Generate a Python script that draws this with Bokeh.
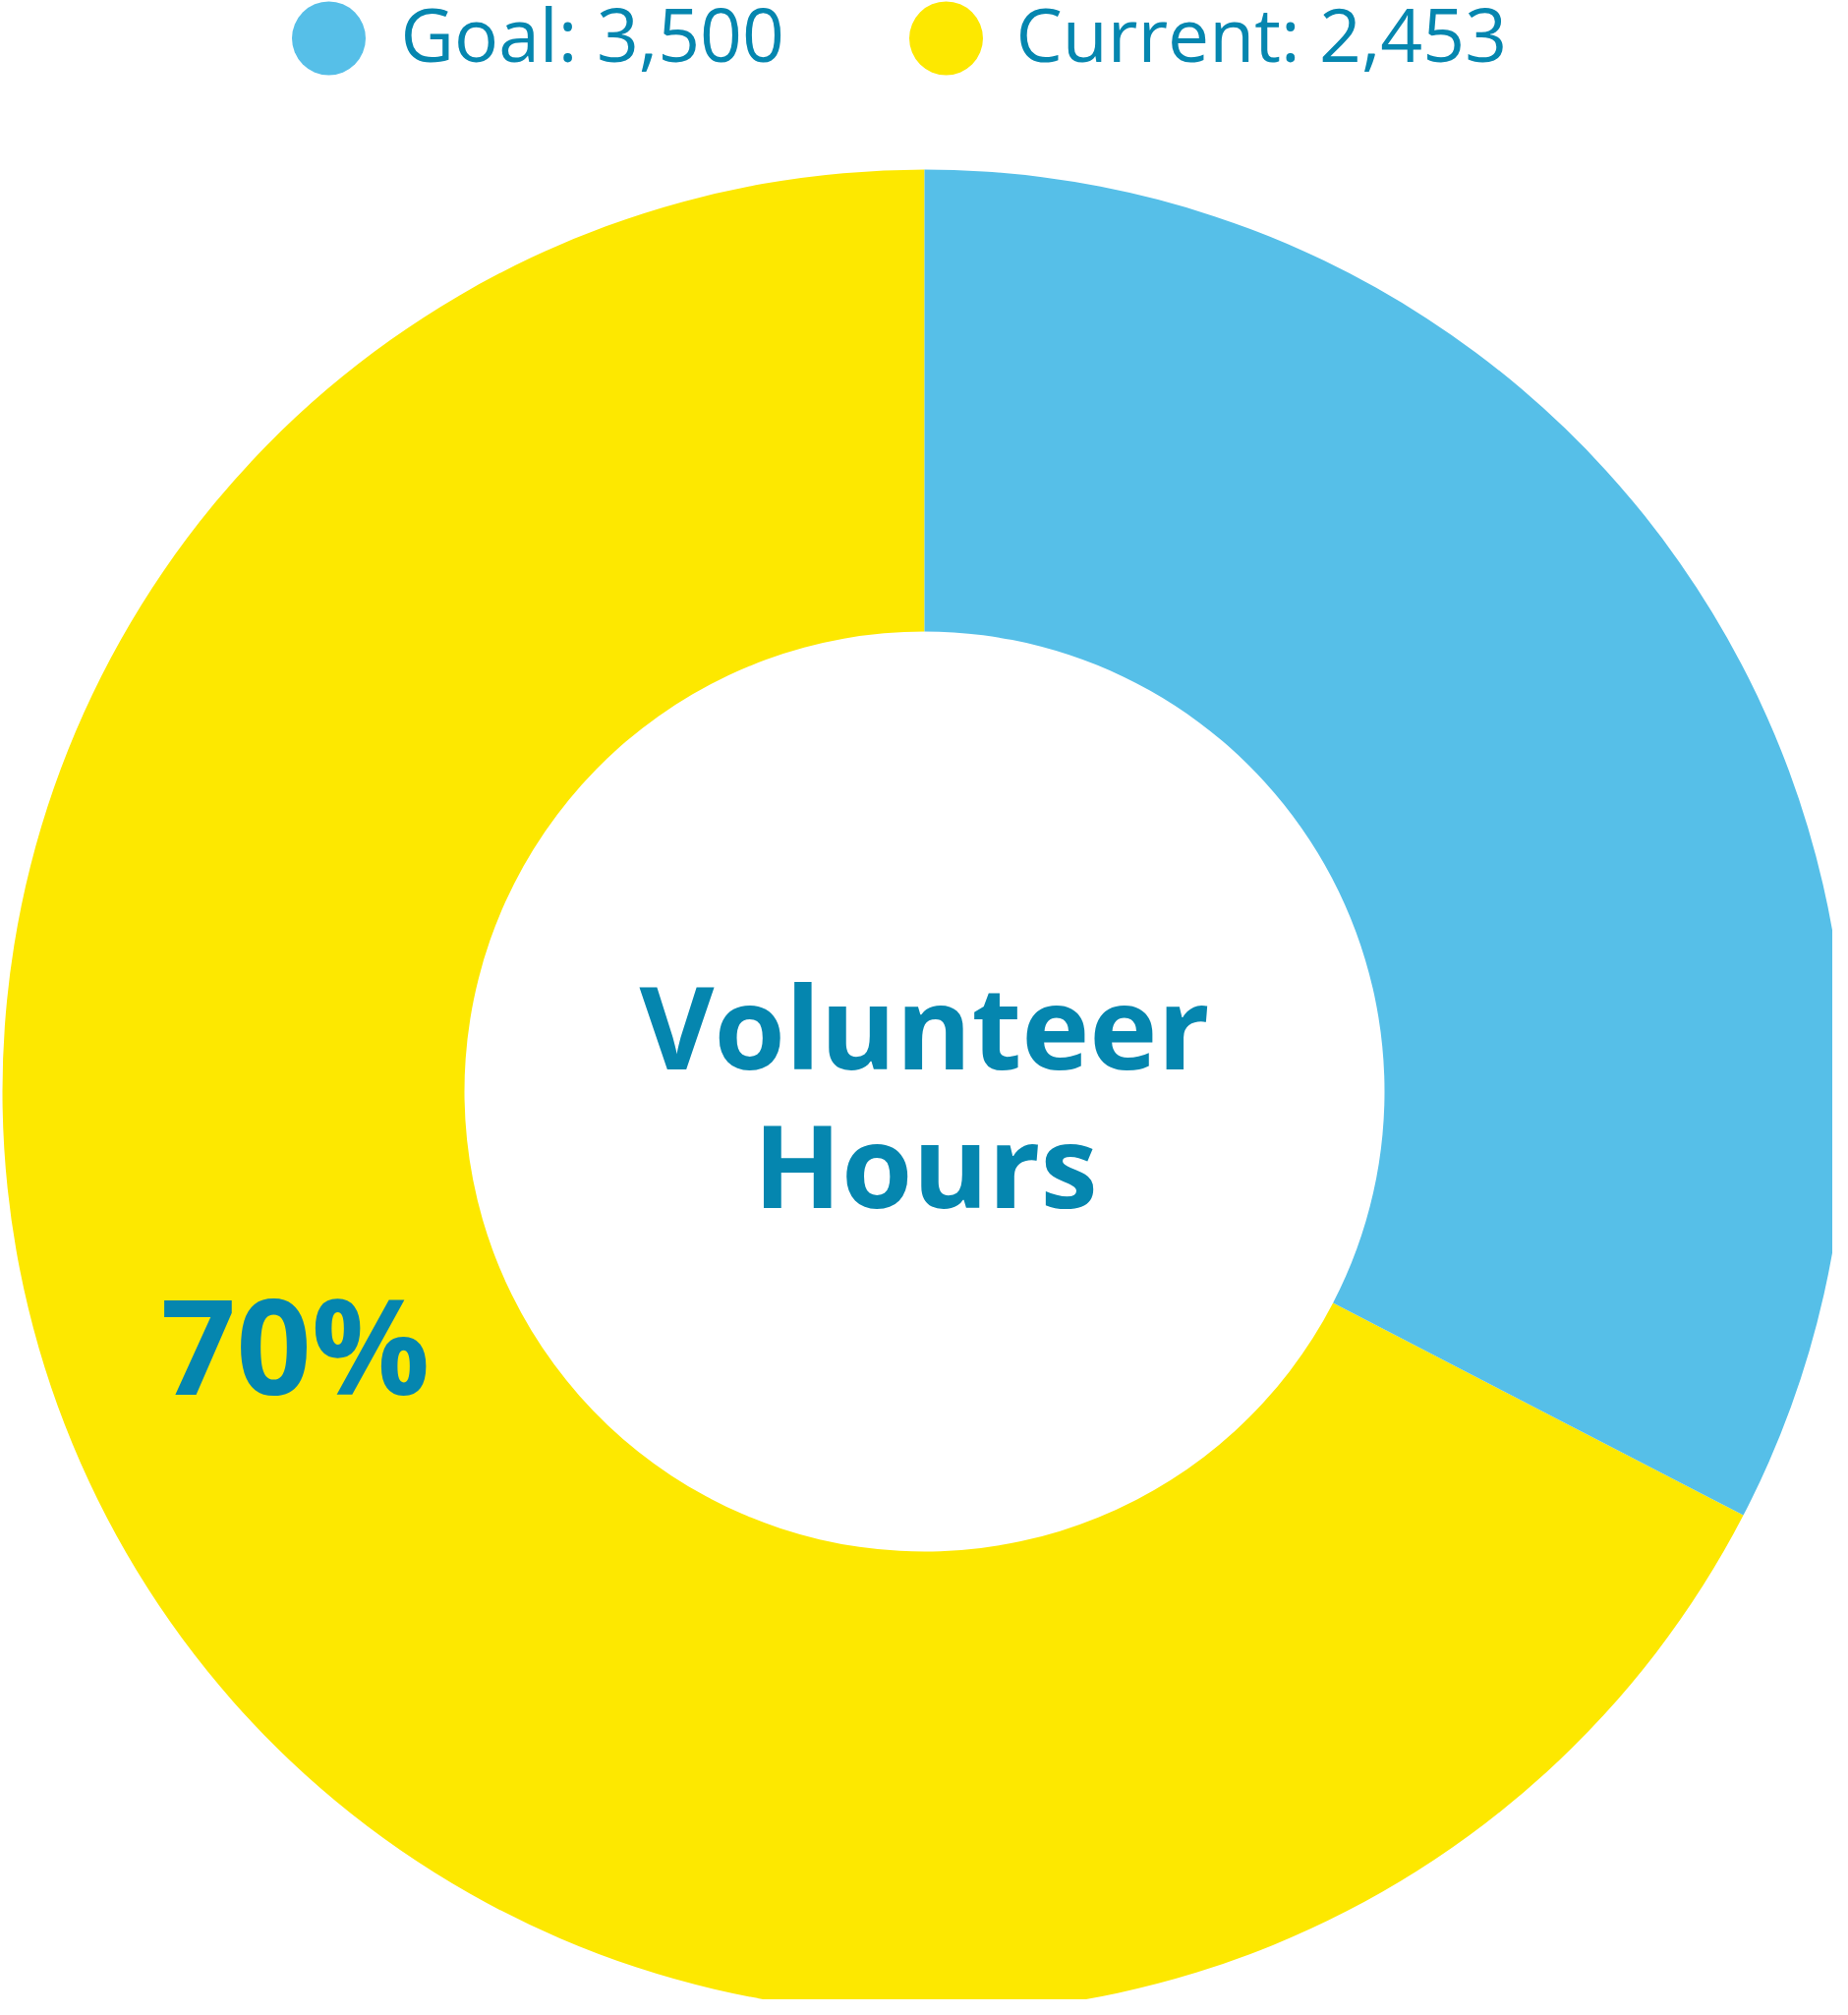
import math
from bokeh.plotting import figure
from bokeh.models import Range1d, ColumnDataSource
from bokeh.core.properties import value
from bokeh.embed import file_html
from bokeh.resources import INLINE

# ---- data ----
legend_labels = ["Goal: 3,500", "Current: 2,453"]
legend_colors = ["#56BFE8", "#FDE800"]
segment_names = ["Current", "Remaining"]
segment_shares = [0.674, 0.326]          # share of the ring
segment_colors = ["#FDE800", "#56BFE8"]
center_lines = ["Volunteer", "Hours"]
percent_label = "70%"

TEXT_COLOR = "#0586AF"
W, H = 1864, 2034
PAGE = 2050  # reference height; screen coords -> data coords (y up)
K = 0.40     # baseline correction (fraction of font size)


def sy(screen_y):
    return PAGE - screen_y


def base(screen_baseline, fs):
    return PAGE - screen_baseline + K * fs


p = figure(width=W, height=H, output_backend="svg", toolbar_location=None,
           x_range=Range1d(0, W), y_range=Range1d(PAGE - H, PAGE),
           min_border=0, outline_line_color=None, background_fill_color="white",
           border_fill_color="white")
p.axis.visible = False
p.grid.visible = False

cx, cy = 940, sy(1110)
r_out, r_in = 938, 468

# wedges: start at top, yellow goes anticlockwise, blue covers the rest
starts, ends = [], []
a = math.pi / 2
for s in segment_shares:
    starts.append(a)
    a += s * 2 * math.pi
    ends.append(a)
src = ColumnDataSource(dict(name=segment_names, start=starts, end=ends,
                            color=segment_colors,
                            x=[cx] * len(segment_names), y=[cy] * len(segment_names)))
p.annular_wedge(x="x", y="y", inner_radius=r_in, outer_radius=r_out,
                start_angle="start", end_angle="end", fill_color="color",
                line_color=None, source=src)

# legend
lx = [334, 962]
ly = sy(38.5)
p.circle(x=lx, y=[ly, ly], radius=37.5, fill_color=legend_colors, line_color=None)
fs_leg = 75
p.text(x=[407, 1033], y=[base(63, fs_leg)] * 2, text=legend_labels,
       text_font=value("Open Sans"), text_font_size=f"{fs_leg}px", text_color=TEXT_COLOR,
       text_align="left", text_baseline="alphabetic")

# centre title
fs_c = 117
p.text(x=[940, 941], y=[base(1089, fs_c), base(1230, fs_c)], text=center_lines,
       text_font=value("Open Sans"), text_font_style="bold", text_font_size=f"{fs_c}px",
       text_color=TEXT_COLOR, text_align="center", text_baseline="alphabetic")

# percentage label
fs_p = 134
p.text(x=[300], y=[base(1420, fs_p)], text=[percent_label],
       text_font=value("Open Sans"), text_font_style="bold", text_font_size=f"{fs_p}px",
       text_color=TEXT_COLOR, text_align="center", text_baseline="alphabetic")

open("out.html", "w").write(file_html(p, INLINE))
